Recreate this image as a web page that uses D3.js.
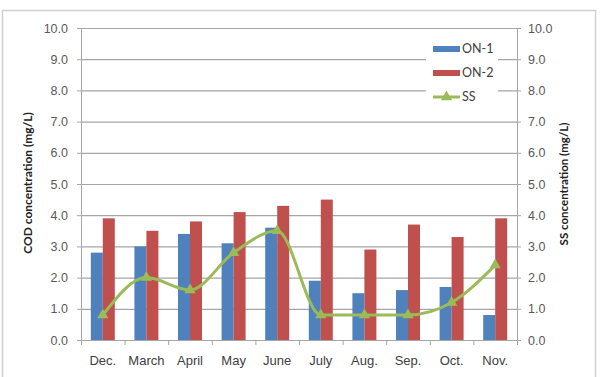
<!DOCTYPE html>
<html>
<head>
<meta charset="utf-8">
<script src="https://cdn.jsdelivr.net/npm/d3@7"></script>
<style>
  body { margin: 0; background: #fff; }
  svg { display: block; font-family: Lato, "Open Sans", sans-serif; }
</style>
</head>
<body>
<script>
const months = ["Dec.", "March", "April", "May", "June", "July", "Aug.", "Sep.", "Oct.", "Nov."];
const on1 = [2.8, 3.0, 3.4, 3.1, 3.6, 1.9, 1.5, 1.6, 1.7, 0.8];
const on2 = [3.9, 3.5, 3.8, 4.1, 4.3, 4.5, 2.9, 3.7, 3.3, 3.9];
const ss = [0.8, 2.0, 1.6, 2.8, 3.5, 0.8, 0.8, 0.8, 1.2, 2.4];
const ticks = [0, 1, 2, 3, 4, 5, 6, 7, 8, 9, 10];

const w = 601, h = 377;
const m = { left: 81, right: 517, top: 28, bottom: 340 };
const blue = "#4f81bd", red = "#c0504d", green = "#9bbb59";

const svg = d3.select("body").append("svg").attr("width", w).attr("height", h);

svg.append("rect")
    .attr("x", 2.5).attr("y", 10.5)
    .attr("width", 593).attr("height", 380)
    .attr("fill", "#fff").attr("stroke", "#d0d0d0").attr("stroke-width", 1.5);

const x = d3.scaleBand().domain(months).range([m.left, m.right]).paddingInner(0.45).paddingOuter(0.225);
const xs = d3.scaleBand().domain(["ON-1", "ON-2"]).range([0, x.bandwidth()]);
const y = d3.scaleLinear().domain([0, 10]).range([m.bottom, m.top]);
const y2 = d3.scaleLinear().domain([0, 10]).range([m.bottom, m.top]);

// gridlines
svg.append("g")
    .selectAll("line")
    .data(ticks.slice(1))
    .join("line")
    .attr("x1", m.left).attr("x2", m.right)
    .attr("y1", (d) => y(d) + 0.5).attr("y2", (d) => y(d) + 0.5)
    .attr("stroke", "#a6a6a6").attr("stroke-width", 1.2);

const fmt = d3.format(".1f");

const leftAxis = svg.append("g")
    .attr("transform", `translate(${m.left},0)`)
    .call(d3.axisLeft(y).tickValues(ticks).tickFormat(fmt).tickSize(4).tickSizeOuter(0));
const rightAxis = svg.append("g")
    .attr("transform", `translate(${m.right},0)`)
    .call(d3.axisRight(y2).tickValues(ticks).tickFormat(fmt).tickSize(4).tickSizeOuter(0));

[leftAxis, rightAxis].forEach((g) => {
    g.select(".domain").attr("stroke", "#a6a6a6");
    g.selectAll(".tick line").attr("stroke", "#a6a6a6");
    g.selectAll(".tick text").attr("fill", "#595959").style("font-size", "12.5px");
});
leftAxis.selectAll(".tick text").attr("x", -13);
rightAxis.selectAll(".tick text").attr("x", 11);

// bars
const groups = svg.append("g")
    .selectAll("g")
    .data(months)
    .join("g")
    .attr("transform", (d) => `translate(${x(d)},0)`);

groups.append("rect")
    .attr("x", xs("ON-1"))
    .attr("y", (d, i) => y(on1[i]))
    .attr("width", xs.bandwidth())
    .attr("height", (d, i) => y(0) - y(on1[i]))
    .attr("fill", blue);
groups.append("rect")
    .attr("x", xs("ON-2"))
    .attr("y", (d, i) => y(on2[i]))
    .attr("width", xs.bandwidth())
    .attr("height", (d, i) => y(0) - y(on2[i]))
    .attr("fill", red);

// x axis
const xAxis = svg.append("g")
    .attr("transform", `translate(0,${m.bottom})`)
    .call(d3.axisBottom(x).tickSize(0).tickSizeOuter(0).tickPadding(16));
xAxis.select(".domain").attr("stroke", "#a6a6a6");
xAxis.selectAll(".tick text").attr("fill", "#404040").style("font-size", "13px");
const step = x.step();
xAxis.selectAll(".sep")
    .data(d3.range(months.length + 1))
    .join("line")
    .attr("x1", (d) => m.left + d * step + 0.5)
    .attr("x2", (d) => m.left + d * step + 0.5)
    .attr("y1", 0).attr("y2", 5)
    .attr("stroke", "#a6a6a6");

// SS line
const cx = (d, i) => x(months[i]) + x.bandwidth() / 2;
const line = d3.line()
    .x((d, i) => cx(d, i))
    .y((d) => y2(d))
    .curve(d3.curveMonotoneX);
svg.append("path")
    .datum(ss)
    .attr("d", line)
    .attr("fill", "none")
    .attr("stroke", green)
    .attr("stroke-width", 3);

const tri = d3.symbol().type(d3.symbolTriangle).size(55);
svg.append("g")
    .selectAll("path")
    .data(ss)
    .join("path")
    .attr("d", tri)
    .attr("transform", (d, i) => `translate(${cx(d, i)},${y2(d)})`)
    .attr("fill", green);

// axis titles
svg.append("text")
    .attr("transform", `translate(32,183) rotate(-90)`)
    .attr("text-anchor", "middle")
    .style("font-size", "12px").style("font-weight", "bold")
    .attr("fill", "#222")
    .text("COD concentration  (mg/L)");
svg.append("text")
    .attr("transform", `translate(568,184) rotate(-90)`)
    .attr("text-anchor", "middle")
    .style("font-size", "11.5px").style("font-weight", "bold")
    .attr("fill", "#222")
    .text("SS concentration  (mg/L)");

// legend
const legend = svg.append("g").attr("transform", "translate(426,38)");
legend.append("rect").attr("width", 72).attr("height", 70).attr("fill", "#fff");
const items = [
    { name: "ON-1", color: blue, type: "bar" },
    { name: "ON-2", color: red, type: "bar" },
    { name: "SS", color: green, type: "line" },
];
const li = legend.selectAll(".item")
    .data(items)
    .join("g")
    .attr("transform", (d, i) => `translate(7,${11 + i * 24})`);
li.filter((d) => d.type === "bar")
    .append("rect")
    .attr("x", 0).attr("y", -3).attr("width", 27).attr("height", 6)
    .attr("fill", (d) => d.color);
li.filter((d) => d.type === "line")
    .append("line")
    .attr("x1", 0).attr("x2", 27).attr("y1", 0).attr("y2", 0)
    .attr("stroke", (d) => d.color).attr("stroke-width", 3);
li.filter((d) => d.type === "line")
    .append("path")
    .attr("d", tri)
    .attr("transform", "translate(13.5,0)")
    .attr("fill", (d) => d.color);
li.append("text")
    .attr("x", 29).attr("dy", "0.35em")
    .style("font-size", "12.5px")
    .attr("fill", "#404040")
    .text((d) => d.name);
</script>
</body>
</html>
